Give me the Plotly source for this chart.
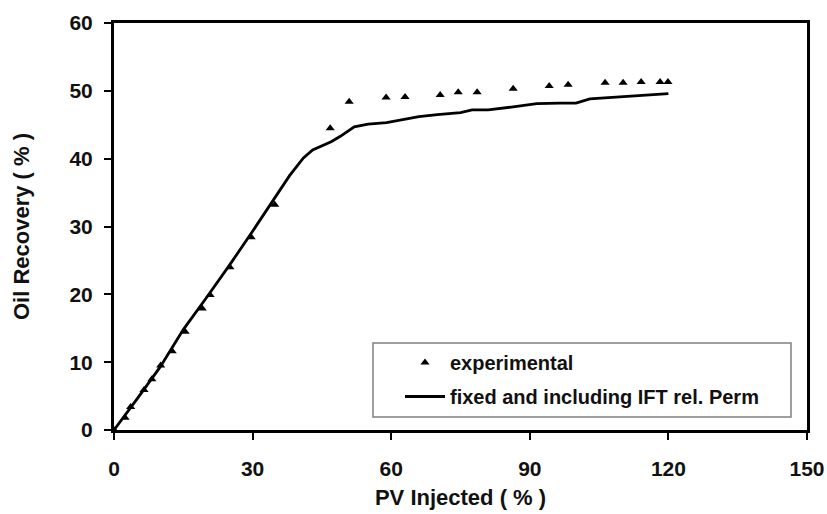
import plotly.graph_objects as go

# Experimental data
exp_pv = [0, 2.4, 3.6, 6.5, 8.2, 10.1, 12.6, 15.4, 19.1, 20.8, 25.1, 29.7, 34.8,
          46.8, 50.9, 58.9, 63.0, 70.6, 74.5, 78.6, 86.4, 94.2, 98.3, 106.3, 110.2, 114.1, 118.2, 119.9]
exp_rec = [0, 1.8, 3.4, 5.9, 7.5, 9.5, 11.6, 14.5, 17.9, 19.9, 24.0, 28.4, 33.2,
           44.5, 48.4, 49.0, 49.1, 49.4, 49.8, 49.8, 50.3, 50.7, 50.9, 51.2, 51.2, 51.3, 51.3, 51.3]

# Simulation: fixed and including IFT rel. Perm
sim_pv = [0, 2, 5, 10, 15, 20, 25, 30, 35, 38, 41, 43, 47, 49, 52, 55, 59, 62.5, 66, 70,
          75, 77.5, 81, 86, 91.5, 96.5, 100, 103, 112, 120]
sim_rec = [0, 1.8, 4.6, 9.3, 14.8, 19.5, 24.3, 29.3, 34.5, 37.5, 40.1, 41.3, 42.5, 43.3, 44.7, 45.1,
           45.3, 45.8, 46.2, 46.5, 46.8, 47.2, 47.2, 47.6, 48.1, 48.2, 48.2, 48.8, 49.2, 49.6]

x_ticks = [0, 30, 60, 90, 120, 150]
y_ticks = [0, 10, 20, 30, 40, 50, 60]

FONT = "Liberation Sans, Arial, sans-serif"
TXT = "#111111"

fig = go.Figure()
fig.add_trace(go.Scatter(
    x=exp_pv, y=exp_rec, mode="markers", name="experimental",
    marker=dict(symbol="triangle-up", size=8, color="black"),
    legendgroup="a",
))
fig.add_trace(go.Scatter(
    x=sim_pv, y=sim_rec, mode="lines", name="fixed and including IFT rel. Perm",
    line=dict(color="black", width=2.8),
    legendgroup="b",
))

fig.update_layout(
    width=827, height=514,
    margin=dict(l=114, r=20, t=23, b=84, autoexpand=False),
    paper_bgcolor="white", plot_bgcolor="white",
    font=dict(family=FONT, color=TXT, size=20),
    showlegend=True,
    legend=dict(
        x=(400 - 114) / 693, y=(430 - 343) / 407, xanchor="left", yanchor="top",
        bgcolor="rgba(0,0,0,0)", borderwidth=0,
        font=dict(family=FONT, size=20, color=TXT, weight="bold"),
        tracegroupgap=5, itemwidth=40,
    ),
    xaxis=dict(
        range=[0, 150], tickvals=x_ticks, ticktext=[str(v) for v in x_ticks],
        showgrid=False, zeroline=False,
        showline=True, linecolor="black", linewidth=3, mirror=True,
        ticks="outside", ticklen=7, tickwidth=1.5, tickcolor="black",
        tickfont=dict(family=FONT, size=21, color=TXT, weight="bold"),
        ticklabelstandoff=11,
        title=dict(text="PV Injected ( % )", standoff=11,
                   font=dict(family=FONT, size=22, color=TXT, weight="bold")),
    ),
    yaxis=dict(
        range=[0, 60], tickvals=y_ticks, ticktext=[str(v) for v in y_ticks],
        showgrid=False, zeroline=False,
        showline=True, linecolor="black", linewidth=3, mirror=True,
        ticks="outside", ticklen=7, tickwidth=1.5, tickcolor="black",
        tickfont=dict(family=FONT, size=21, color=TXT, weight="bold"),
        ticklabelstandoff=7,
        title=dict(text="Oil Recovery ( % )", standoff=34,
                   font=dict(family=FONT, size=22, color=TXT, weight="bold")),
    ),
    shapes=[dict(
        type="rect", xref="paper", yref="paper",
        x0=(373 - 114) / 693, x1=(791 - 114) / 693,
        y0=(430 - 417) / 407, y1=(430 - 343) / 407,
        line=dict(color="#808080", width=1.5), fillcolor="rgba(0,0,0,0)", layer="below",
    )],
)

fig.write_html("out.html", config={"displayModeBar": False},
               post_script="document.body.style.margin='0';document.body.style.overflow='hidden';")
